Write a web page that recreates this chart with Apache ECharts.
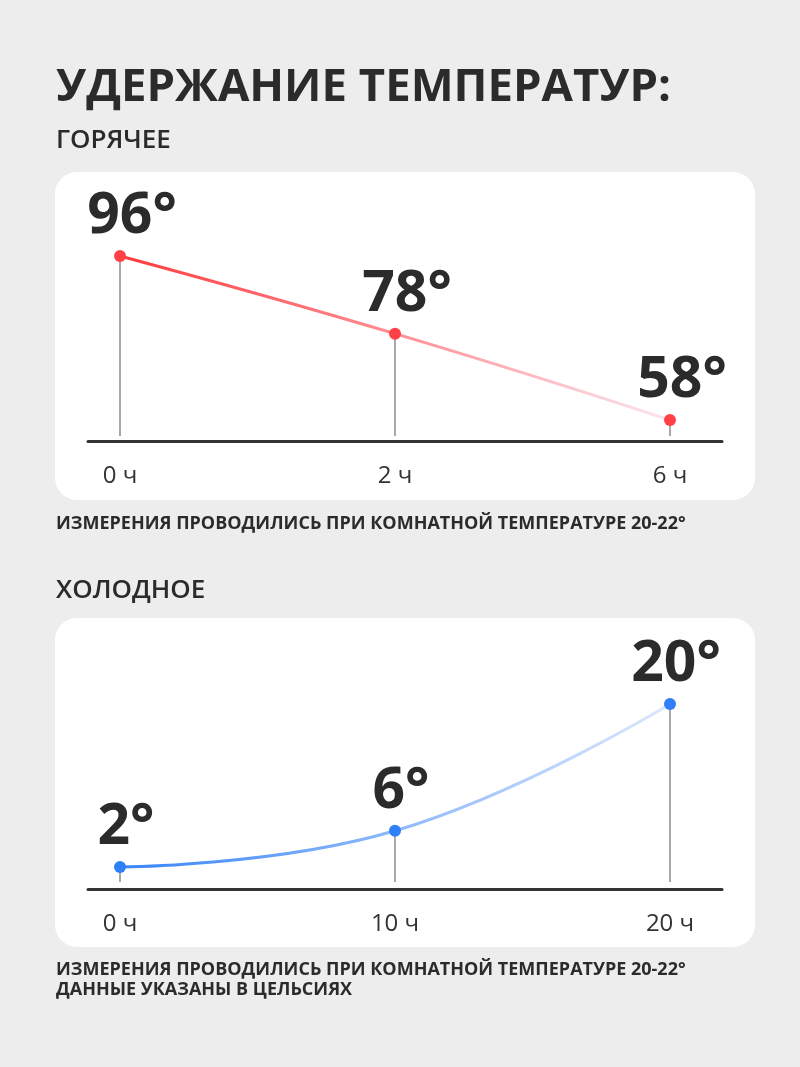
<!DOCTYPE html>
<html>
<head>
<meta charset="utf-8">
<script src="https://cdn.jsdelivr.net/npm/echarts@6/dist/echarts.min.js"></script>
<style>
html,body{margin:0;padding:0;background:#ededed;}
#chart{width:800px;height:1067px;}
</style>
</head>
<body>
<div id="chart"></div>
<script>
// ---- data ----
const titleText = 'УДЕРЖАНИЕ ТЕМПЕРАТУР:';
const hotTitle = 'ГОРЯЧЕЕ';
const coldTitle = 'ХОЛОДНОЕ';
const noteLine1 = 'ИЗМЕРЕНИЯ ПРОВОДИЛИСЬ ПРИ КОМНАТНОЙ ТЕМПЕРАТУРЕ 20-22°';
const noteLine2 = 'ДАННЫЕ УКАЗАНЫ В ЦЕЛЬСИЯХ';

const hotHours = ['0 ч', '2 ч', '6 ч'];
const hotTemps = [96, 78, 58];
const coldHours = ['0 ч', '10 ч', '20 ч'];
const coldTemps = [2, 6, 20];

// ---- build ----
const FONT = '"Open Sans", "Noto Sans", sans-serif';
const TXT = '#2b2b2b';
const hotData = hotTemps.map((v, i) => [i, v]);
const coldData = coldTemps.map((v, i) => [i, v]);

const chart = echarts.init(document.getElementById('chart'), null, {renderer: 'canvas'});

function xAxisFor(gridIndex, labels, offset) {
  return {
    type: 'value', gridIndex: gridIndex, min: -0.1164, max: 2.1891, offset: offset,
    splitLine: {show: false},
    axisTick: {show: false},
    axisLine: {show: true, onZero: false, lineStyle: {color: '#333333', width: 3, cap: 'round'}},
    axisLabel: {
      show: true, customValues: labels.map((l, i) => i),
      formatter: v => labels[Math.round(v)],
      fontSize: 24, fontFamily: FONT, color: '#333333', margin: 23, lineHeight: 24
    }
  };
}

function labelFor(offsetX) {
  return {
    show: true, position: 'top', distance: 4, offset: [offsetX, 0],
    formatter: p => p.value[1] + '°',
    fontSize: 57, fontWeight: 'bold', fontFamily: FONT, color: TXT, lineHeight: 58
  };
}

const option = {
  backgroundColor: '#ededed',
  animation: false,
  graphic: [
    {type: 'rect', z: -5, shape: {x: 55, y: 172, width: 700, height: 328, r: 22}, style: {fill: '#ffffff'}},
    {type: 'rect', z: -5, shape: {x: 55, y: 618, width: 700, height: 329, r: 22}, style: {fill: '#ffffff'}},
    {type: 'text', z: 5, style: {x: 56, y: 88, text: titleText, fontSize: 45.5, fontWeight: 'bold', fontFamily: FONT, fill: TXT, textVerticalAlign: 'middle'}},
    {type: 'text', z: 5, style: {x: 56, y: 141, text: hotTitle, fontSize: 26, fontWeight: 600, fontFamily: FONT, fill: TXT, textVerticalAlign: 'middle'}},
    {type: 'text', z: 5, style: {x: 56, y: 524, text: noteLine1, fontSize: 18, fontWeight: 'bold', fontFamily: FONT, fill: TXT, textVerticalAlign: 'middle'}},
    {type: 'text', z: 5, style: {x: 56, y: 591, text: coldTitle, fontSize: 26, fontWeight: 600, fontFamily: FONT, fill: TXT, textVerticalAlign: 'middle'}},
    {type: 'text', z: 5, style: {x: 56, y: 970, text: noteLine1, fontSize: 18, fontWeight: 'bold', fontFamily: FONT, fill: TXT, textVerticalAlign: 'middle'}},
    {type: 'text', z: 5, style: {x: 56, y: 990, text: noteLine2, fontSize: 18, fontWeight: 'bold', fontFamily: FONT, fill: TXT, textVerticalAlign: 'middle'}}
  ],
  grid: [
    {left: 88, right: 78, top: 172, bottom: 631},
    {left: 88, right: 78, top: 618, bottom: 185}
  ],
  xAxis: [xAxisFor(0, hotHours, 5), xAxisFor(1, coldHours, 7)],
  yAxis: [
    {type: 'value', gridIndex: 0, show: false, min: 54.29, max: 115.46, splitLine: {show: false}},
    {type: 'value', gridIndex: 1, show: false, min: 0.344, max: 29.5, splitLine: {show: false}}
  ],
  series: [
    {type: 'bar', xAxisIndex: 0, yAxisIndex: 0, data: hotData, barWidth: 2, clip: true, z: 1,
     itemStyle: {color: '#a9a9a9'}, silent: true},
    {type: 'line', xAxisIndex: 0, yAxisIndex: 0, data: hotData, smooth: 0.45, z: 3,
     symbol: 'circle', symbolSize: 12,
     itemStyle: {color: '#ff4147'},
     lineStyle: {width: 3, color: new echarts.graphic.LinearGradient(0, 0, 1, 0, [
       {offset: 0, color: '#ff3a3d'}, {offset: 0.5, color: '#ff8e93'}, {offset: 1, color: '#fbe6ef'}])},
     label: labelFor(12)},
    {type: 'bar', xAxisIndex: 1, yAxisIndex: 1, data: coldData, barWidth: 2, clip: true, z: 1,
     itemStyle: {color: '#a9a9a9'}, silent: true},
    {type: 'line', xAxisIndex: 1, yAxisIndex: 1, data: coldData, smooth: 0.45, z: 3,
     symbol: 'circle', symbolSize: 12,
     itemStyle: {color: '#2f80f7'},
     lineStyle: {width: 3, color: new echarts.graphic.LinearGradient(0, 0, 1, 0, [
       {offset: 0, color: '#3585f7'}, {offset: 0.5, color: '#8fb9fb'}, {offset: 1, color: '#dde8fd'}])},
     label: labelFor(6)}
  ]
};
chart.setOption(option);
</script>
</body>
</html>
